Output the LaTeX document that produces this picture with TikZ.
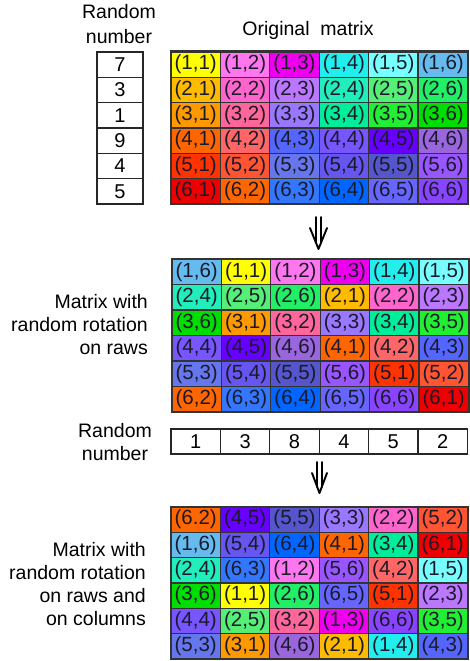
\documentclass[tikz,border=0pt]{standalone}
\usepackage{fontspec}
\setmainfont{Liberation Sans}
\usetikzlibrary{calc}
\definecolor{c11}{HTML}{FFFF00}
\definecolor{c12}{HTML}{FF77EE}
\definecolor{c13}{HTML}{EE00EE}
\definecolor{c14}{HTML}{22EEEE}
\definecolor{c15}{HTML}{77FFFF}
\definecolor{c16}{HTML}{66BBEE}
\definecolor{c21}{HTML}{FFBB00}
\definecolor{c22}{HTML}{FF66CC}
\definecolor{c23}{HTML}{BB77FF}
\definecolor{c24}{HTML}{22EEBB}
\definecolor{c25}{HTML}{55EE77}
\definecolor{c26}{HTML}{22EE66}
\definecolor{c31}{HTML}{FF9900}
\definecolor{c32}{HTML}{FF6699}
\definecolor{c33}{HTML}{9977FF}
\definecolor{c34}{HTML}{00EE99}
\definecolor{c35}{HTML}{22EE33}
\definecolor{c36}{HTML}{00DD00}
\definecolor{c41}{HTML}{FF6600}
\definecolor{c42}{HTML}{FF6666}
\definecolor{c43}{HTML}{5566FF}
\definecolor{c44}{HTML}{7755FF}
\definecolor{c45}{HTML}{6600FF}
\definecolor{c46}{HTML}{9966DD}
\definecolor{c51}{HTML}{FF3300}
\definecolor{c52}{HTML}{FF5533}
\definecolor{c53}{HTML}{6677EE}
\definecolor{c54}{HTML}{6655EE}
\definecolor{c55}{HTML}{5555CC}
\definecolor{c56}{HTML}{9955FF}
\definecolor{c61}{HTML}{EE0000}
\definecolor{c62}{HTML}{FF6600}
\definecolor{c63}{HTML}{3377FF}
\definecolor{c64}{HTML}{0066FF}
\definecolor{c65}{HTML}{6666FF}
\definecolor{c66}{HTML}{8844FF}
\definecolor{cellline}{HTML}{333333}
\definecolor{celltext}{HTML}{1A1A2A}
\begin{document}
\begin{tikzpicture}[x=1pt,y=-1pt,
  cellbox/.style={draw=cellline, line width=1.2pt, minimum width=49.4pt, minimum height=25.33pt, inner sep=0pt, font=\fontsize{20.5}{22}\selectfont, text=celltext},
  numbox/.style={draw=black!85, line width=1.1pt, inner sep=0pt, font=\fontsize{20}{22}\selectfont},
  outerbox/.style={draw=cellline, line width=1.8pt},
  lbl/.style={inner sep=0pt, font=\fontsize{19.5}{23}\selectfont},
  dbl/.style={line width=1.9pt, line cap=round, line join=round}]
\useasboundingbox (0,0) rectangle (470,661);

% original matrix
\foreach \mrow in {1,...,6} {
  \foreach \mcol in {1,...,6} {
    \node[cellbox, fill=c\mrow\mcol] (mA-\mrow-\mcol) at ({171+49.4*(\mcol-0.5)},{52+25.33*(\mrow-0.5)}) {(\mrow,\mcol)};
  }
}
\draw[outerbox] (mA-1-1.north west) rectangle (mA-6-6.south east);

% rotated on rows
\foreach \v [count=\k from 0] in {16,11,12,13,14,15,24,25,26,21,22,23,36,31,32,33,34,35,44,45,46,41,42,43,53,54,55,56,51,52,62,63,64,65,66,61} {
  \pgfmathtruncatemacro\mrow{int(\k/6)+1}
  \pgfmathtruncatemacro\mcol{mod(\k,6)+1}
  \pgfmathtruncatemacro\mi{int(\v/10)}
  \pgfmathtruncatemacro\mj{mod(\v,10)}
  \node[cellbox, fill=c\v] (mB-\mrow-\mcol) at ({172+49.4*(\mcol-0.5)},{259+25.5*(\mrow-0.5)}) {(\mi,\mj)};
}
\draw[outerbox] (mB-1-1.north west) rectangle (mB-6-6.south east);

% rotated on rows and columns
\foreach \v [count=\k from 0] in {62,45,55,33,22,52,16,54,64,41,34,61,24,63,12,56,42,15,36,11,26,65,51,23,44,25,32,13,66,35,53,31,46,21,14,43} {
  \pgfmathtruncatemacro\mrow{int(\k/6)+1}
  \pgfmathtruncatemacro\mcol{mod(\k,6)+1}
  \pgfmathtruncatemacro\mi{int(\v/10)}
  \pgfmathtruncatemacro\mj{mod(\v,10)}
  \node[cellbox, fill=c\v] (mC-\mrow-\mcol) at ({171+49.4*(\mcol-0.5)},{507+25.33*(\mrow-0.5)}) {(\mi\ifnum\k=0 .\else,\fi\mj)};
}
\draw[outerbox] (mC-1-1.north west) rectangle (mC-6-6.south east);

% random numbers column
\foreach \n [count=\mrow] in {7,3,1,9,4,5} {
  \node[numbox, minimum width=46pt, minimum height=25.33pt] (rc-\mrow) at (120,{52+25.33*(\mrow-0.5)}) {\n};
}
% random numbers row
\foreach \n [count=\mcol] in {1,3,8,4,5,2} {
  \node[numbox, minimum width=49.4pt, minimum height=25pt] (rr-\mcol) at ({171+49.4*(\mcol-0.5)},441.5) {\n};
}

% labels
\node[lbl, align=center, font=\fontsize{19.5}{25}\selectfont] (lblRandA) at (119,24) {Random\\number};
\node[lbl, anchor=base] (lblOrig) at (308,36) {Original\ \ matrix};
\node[lbl, align=right, anchor=east] (lblB) at (148,325) {Matrix with\\random rotation\\on raws};
\node[lbl, align=right, anchor=east] (lblC) at (146,584.5) {Matrix with\\random rotation\\on raws and\\on columns};
\node[lbl, align=center] (lblRandB) at (115,442) {Random\\number};

% arrows
\coordinate (a1t) at (318.5,217);
\coordinate (a1b) at (318.5,249);
\draw[dbl] ($(a1t)+(-2.8,0)$) -- ($(a1b)+(-2.8,-6)$);
\draw[dbl] ($(a1t)+(2.8,0)$) -- ($(a1b)+(2.8,-6)$);
\draw[dbl] ($(a1b)+(-8.5,-21)$) -- (a1b) -- ($(a1b)+(8.5,-21)$);

\coordinate (a2t) at (319.5,462);
\coordinate (a2b) at (319.5,493);
\draw[dbl] ($(a2t)+(-2.6,0)$) -- ($(a2b)+(-2.6,-6)$);
\draw[dbl] ($(a2t)+(2.6,0)$) -- ($(a2b)+(2.6,-6)$);
\draw[dbl] ($(a2b)+(-7.5,-20)$) -- (a2b) -- ($(a2b)+(7.5,-20)$);
\end{tikzpicture}
\end{document}
